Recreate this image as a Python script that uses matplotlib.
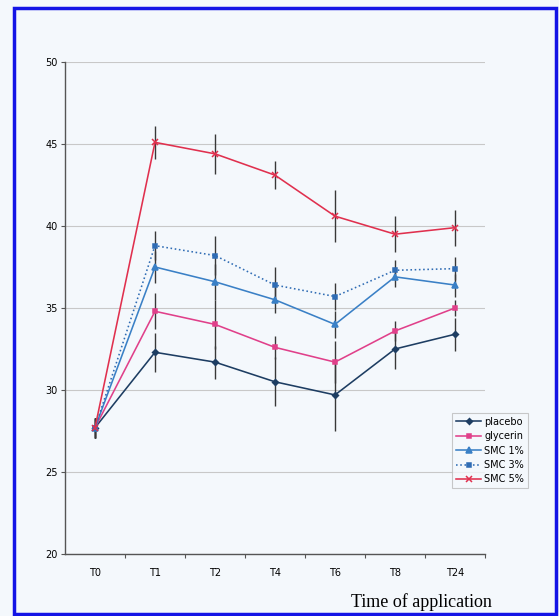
import matplotlib
matplotlib.use("Agg")
import matplotlib.pyplot as plt
from matplotlib.patches import Rectangle

times = ["T0", "T1", "T2", "T4", "T6", "T8", "T24"]

placebo = [27.7, 32.3, 31.7, 30.5, 29.7, 32.5, 33.4]
placebo_err = [0.6, 1.2, 1.0, 1.5, 2.2, 1.2, 1.0]

glycerin = [27.7, 34.8, 34.0, 32.6, 31.7, 33.6, 35.0]
glycerin_err = [0.6, 1.1, 1.5, 0.7, 1.3, 0.6, 0.5]

smc1 = [27.7, 37.5, 36.6, 35.5, 34.0, 36.9, 36.4]
smc1_err = [0.6, 1.0, 1.1, 0.8, 0.8, 0.6, 0.7]

smc3 = [27.7, 38.8, 38.2, 36.4, 35.7, 37.3, 37.4]
smc3_err = [0.6, 0.9, 1.2, 1.1, 0.8, 0.6, 0.7]

smc5 = [27.7, 45.1, 44.4, 43.1, 40.6, 39.5, 39.9]
smc5_err = [0.6, 1.0, 1.2, 0.85, 1.6, 1.1, 1.1]

series = [
    ("placebo", placebo, placebo_err, "#1d3d62", "D", "-", 3.0),
    ("glycerin", glycerin, glycerin_err, "#e0408a", "s", "-", 3.2),
    ("SMC 1%", smc1, smc1_err, "#3a80c6", "^", "-", 4.0),
    ("SMC 3%", smc3, smc3_err, "#2f6cb4", "s", ":", 3.0),
    ("SMC 5%", smc5, smc5_err, "#e0304e", "x", "-", 4.5),
]

bg = "#f4f8fc"
fig = plt.figure(figsize=(5.59, 6.16), dpi=100, facecolor=bg)
ax = fig.add_axes([65 / 559, 1 - 554 / 616, 420 / 559, 492 / 616])
ax.set_facecolor(bg)

x = list(range(len(times)))
handles = []
for name, vals, err, col, mk, ls, ms in series:
    ax.errorbar(x, vals, yerr=err, fmt="none", ecolor="#383838",
                elinewidth=1.0, capsize=0, zorder=2)
    h, = ax.plot(x, vals, color=col, linestyle=ls, linewidth=1.15,
                 marker=mk, markersize=ms, markeredgewidth=1.1,
                 label=name, zorder=3)
    handles.append(h)

ax.set_xlim(-0.5, len(times) - 0.5)
ax.set_ylim(20, 50)
ax.set_yticks(range(20, 51, 5))
ax.tick_params(axis="y", labelsize=7, length=3, color="#555555", pad=2)
# category boundaries carry the tick marks, labels sit at the centres
ax.set_xticks([i - 0.5 for i in range(1, len(times) + 1)])
ax.set_xticklabels([])
ax.set_xticks(x, minor=True)
ax.set_xticklabels(times, minor=True)
ax.tick_params(axis="x", which="major", length=3, color="#555555", direction="out")
ax.tick_params(axis="x", which="minor", length=0, labelsize=7, pad=10)
ax.yaxis.grid(True, color="#c8c8c8", linewidth=0.8)
ax.set_axisbelow(True)
for s in ["top", "right"]:
    ax.spines[s].set_visible(False)
for s in ["left", "bottom"]:
    ax.spines[s].set_color("#555555")
    ax.spines[s].set_linewidth(1.0)

leg = fig.legend(handles=handles, loc="upper left",
                 bbox_to_anchor=(452 / 559, 1 - 413 / 616), fontsize=7,
                 frameon=True, fancybox=False, handlelength=2.6,
                 handletextpad=0.3, labelspacing=0.45, borderpad=0.4,
                 borderaxespad=0)
leg.get_frame().set_edgecolor("#bbbbbb")
leg.get_frame().set_facecolor(bg)
leg.get_frame().set_linewidth(0.8)

fig.text(421 / 559, 1 - 602 / 616, "Time of application", ha="center",
         va="center", fontsize=13, family=["Liberation Serif", "DejaVu Serif"])

fig.patches.append(Rectangle((14 / 559, 2 / 616), 542 / 559, 606 / 616,
                             transform=fig.transFigure, fill=False,
                             edgecolor="#1414e6", linewidth=2.5))

fig.savefig("out.png", dpi=100, facecolor=bg)
